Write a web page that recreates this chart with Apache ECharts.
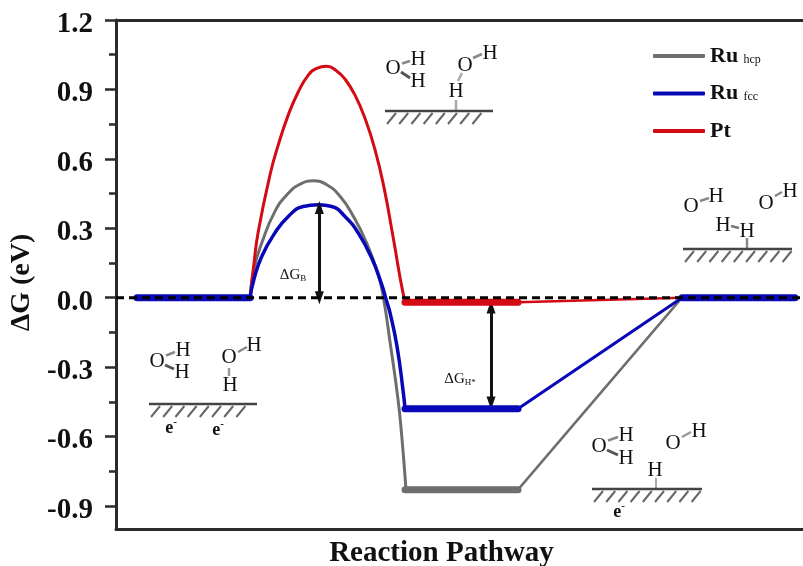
<!DOCTYPE html>
<html><head><meta charset="utf-8">
<style>html,body{margin:0;padding:0;background:#fff}#c{width:803px;height:566px}</style>
<script src="https://cdn.jsdelivr.net/npm/echarts@6/dist/echarts.min.js"></script>
</head><body><div id="c"></div>
<script>
// Reaction coordinate (0-100) and free energy (eV)
const yMajorTicks = [-0.9,-0.6,-0.3,0,0.3,0.6,0.9,1.2];
const yMinorTicks = [-0.75,-0.45,-0.15,0.15,0.45,0.75,1.05];
const ruHcpCurve = [[19.51,0],[20.09,0.125],[21.21,0.236],[23.14,0.373],[25.08,0.451],[26.78,0.490],[28.72,0.505],[30.67,0.488],[32.61,0.438],[34.54,0.352],[36.49,0.236],[38.18,0.099],[38.93,0],[39.88,-0.19],[41.05,-0.44],[41.63,-0.61],[42.21,-0.83]];
const ruFccCurve = [[19.51,0],[20.09,0.08],[21.21,0.178],[23.14,0.280],[25.08,0.351],[27.26,0.394],[29.45,0.401],[31.40,0.394],[33.33,0.351],[35.27,0.279],[37.22,0.171],[38.68,0.056],[39.40,-0.016],[39.88,-0.065],[40.90,-0.21],[41.78,-0.40],[42.07,-0.48]];
const ptCurve = [[19.51,0],[20.09,0.15],[20.71,0.286],[22.42,0.531],[23.62,0.660],[25.08,0.790],[26.54,0.890],[27.99,0.962],[29.21,0.991],[30.67,1.0],[32.12,0.98],[33.33,0.945],[34.79,0.875],[36.24,0.775],[37.70,0.640],[39.05,0.470],[40.36,0.258],[41.92,0],[42.36,-0.02]];
const ruHcpRise = [[58.52,-0.83],[82.39,0]];
const ruFccRise = [[58.52,-0.48],[82.39,0]];
const ptRise = [[58.52,-0.02],[82.39,0]];
const startLevel = [[3.06,0],[19.51,0]];
const endLevel = [[82.39,0],[98.84,0]];
const ruHcpLevel = [[42.07,-0.83],[58.52,-0.83]];
const ruFccLevel = [[42.07,-0.48],[58.52,-0.48]];
const ptLevel = [[42.07,-0.02],[58.52,-0.02]];
const zeroLine = [[0,0],[100,0]];
const barrierArrow = [[29.6,0.39],[29.6,0.0]];
const adsorptionArrow = [[54.59,-0.04],[54.59,-0.455]];

const GRAY='#6e6e6e', BLUE='#0808b8', RED='#d40a14', INK='#2a2a2a';
const SERIF='"Liberation Serif","Times New Roman",serif';

function curve(name,data,color,w,z,smooth){
  return {type:'line',name,data,smooth:smooth?0.5:false,showSymbol:false,symbol:'none',z,silent:true,
    lineStyle:{color,width:w,cap:'round',join:'round'},itemStyle:{color}};
}
function arrow(name,data){
  return {type:'line',name,data:[],z:9,silent:true,symbol:'none',
    markLine:{silent:true,animation:false,symbol:['triangle','triangle'],symbolSize:[9,13],label:{show:false},
      lineStyle:{color:'#111',width:3,type:'solid'},
      data:[[{coord:data[0]},{coord:data[1]}]]}};
}

// Annotation drawing
const gfx=[];
function txt(x,y,t,size){gfx.push({type:'text',x,y,z:20,silent:true,style:{text:t,fontFamily:SERIF,fontSize:size||21,fill:'#111',align:'center',verticalAlign:'middle'}});}
function ln(x1,y1,x2,y2,w,c){gfx.push({type:'line',z:19,silent:true,shape:{x1,y1,x2,y2},style:{stroke:c||'#777',lineWidth:w||2}});}
function surface(x1,x2,y){
  ln(x1,y,x2,y,2.5,'#444');
  for(let x=x1+11;x<=x2;x+=12.2) ln(x,y+2,x-9,y+13,2,'#666');
}
function water(ox,oy,h1x,h1y,h2x,h2y){
  txt(ox,oy,'O');txt(h1x,h1y,'H');
  ln(ox+9,oy-(oy-h1y)*0.5,h1x-8,h1y+2*(oy>h1y?1:0),2.5,'#888');
  if(h2x!==undefined){txt(h2x,h2y,'H');ln(ox+8,oy+4,h2x-8,h2y-3,3,'#555');}
}
function electron(x,y){gfx.push({type:'text',x,y,z:20,silent:true,style:{text:'{a|e}{b|-}',align:'center',verticalAlign:'middle',rich:{a:{fontFamily:SERIF,fontSize:18,fontWeight:'bold',fill:'#111'},b:{fontFamily:SERIF,fontSize:11,fontWeight:'bold',fill:'#111',verticalAlign:'top',lineHeight:22}}}});}
function deltaG(x,y,sub){gfx.push({type:'text',x,y,z:20,silent:true,style:{text:'{a|\u0394G}{b|'+sub+'}',align:'center',verticalAlign:'middle',rich:{a:{fontFamily:SERIF,fontSize:15,fill:'#111'},b:{fontFamily:SERIF,fontSize:9,fill:'#111',padding:[7,0,0,0]}}}});}

// initial state
water(157,361,183,350,182,372);
txt(229,357,'O');txt(254,345,'H');ln(238,352,247,347,2.5,'#888');
txt(230,385,'H');ln(229,368,229,376,2.5,'#999');
surface(149,257,404);electron(171,428);electron(218,430);
// transition state
water(393,68,418,59,418,81);
txt(465,65,'O');txt(490,53,'H');ln(473,58,482,54,2.5,'#888');
txt(456,91,'H');ln(458,81,462,73,2.5,'#aaa');ln(456,100,456,111,2.5,'#aaa');
surface(385,493,111);
// final state
txt(691,206,'O');txt(716,196,'H');ln(700,201,709,198,2.5,'#888');
txt(766,203,'O');txt(790,191,'H');ln(775,196,782,192,2.5,'#888');
txt(723,225,'H');txt(747,231,'H');ln(731,226,739,228,2.5,'#777');ln(747,238,747,249,2.5,'#888');
surface(683,792,249);
// adsorbed state
water(599,446,626,435,626,458);
txt(673,443,'O');txt(699,431,'H');ln(682,437,691,432,2.5,'#999');
txt(655,470,'H');ln(656,478,656,489,2,'#aaa');
surface(592,702,489);electron(619,512);
// labels
deltaG(293,275,'B');deltaG(460,379,'H*');

const chart=echarts.init(document.getElementById('c'),null,{renderer:'canvas'});
chart.setOption({
  animation:false,backgroundColor:'#fff',
  grid:{left:116,right:0,top:20,bottom:37,containLabel:false,outerBoundsMode:'none'},
  legend:{left:648,top:40,orient:'vertical',icon:'roundRect',itemWidth:52,itemHeight:4,itemGap:15.5,selectedMode:false,
    data:['Ru hcp','Ru fcc','Pt'],
    formatter:n=>n==='Pt'?'{m|Pt}':'{m|Ru} {s|'+n.split(' ')[1]+'}',
    textStyle:{rich:{m:{fontFamily:SERIF,fontSize:22,fontWeight:'bold',color:'#111',lineHeight:25},s:{fontFamily:SERIF,fontSize:12,color:'#111',padding:[7,0,0,2]}}}},
  xAxis:[
    {type:'value',min:0,max:100,position:'bottom',name:'Reaction Pathway',nameLocation:'middle',nameGap:10,
     nameTextStyle:{fontFamily:SERIF,fontSize:29,fontWeight:'bold',color:'#111',padding:[0,36,0,0]},
     axisLine:{show:true,onZero:false,lineStyle:{color:INK,width:3}},axisTick:{show:false},axisLabel:{show:false},splitLine:{show:false}},
    {type:'value',min:0,max:100,position:'top',
     axisLine:{show:true,onZero:false,lineStyle:{color:INK,width:3}},axisTick:{show:false},axisLabel:{show:false},splitLine:{show:false}}
  ],
  yAxis:[
    {type:'value',min:-1.0,max:1.2,position:'left',name:'\u0394G (eV)',nameLocation:'middle',nameGap:76,nameRotate:90,
     nameTextStyle:{fontFamily:SERIF,fontSize:28,fontWeight:'bold',color:'#111',padding:[0,16,0,0]},
     axisLine:{show:true,onZero:false,lineStyle:{color:INK,width:3}},
     axisTick:{show:true,length:11,customValues:yMajorTicks,lineStyle:{color:INK,width:2.5}},
     axisLabel:{show:true,margin:23,verticalAlign:'top',lineHeight:9,customValues:yMajorTicks,fontFamily:SERIF,fontSize:29,fontWeight:'bold',color:'#111',formatter:v=>v.toFixed(1)},
     splitLine:{show:false}},
    {type:'value',min:-1.0,max:1.2,position:'left',
     axisLine:{show:false,onZero:false},
     axisTick:{show:true,length:7,customValues:yMinorTicks,lineStyle:{color:INK,width:2.5}},
     axisLabel:{show:false},splitLine:{show:false}}
  ],
  series:[
    curve('Ru hcp',ruHcpCurve,GRAY,3,2,true),
    curve('Ru hcp rise',ruHcpRise,GRAY,2.5,2),
    curve('Ru hcp level',ruHcpLevel,GRAY,7,3),
    curve('Ru fcc',ruFccCurve,BLUE,3.5,4,true),
    curve('Ru fcc rise',ruFccRise,BLUE,3,4),
    curve('Ru fcc level',ruFccLevel,BLUE,7,5),
    curve('Pt',ptCurve,RED,3,3,true),
    curve('Pt rise',ptRise,RED,2.5,3),
    curve('Pt level',ptLevel,RED,7,5),
    curve('start level',startLevel,BLUE,7,6),
    curve('end level',endLevel,BLUE,7,6),
    {type:'line',name:'zero',data:zeroLine,symbol:'none',z:7,silent:true,lineStyle:{color:'#000',width:3,type:[8,5]}},
    arrow('barrier',barrierArrow),
    arrow('adsorption',adsorptionArrow)
  ],
  graphic:gfx
});
</script></body></html>
